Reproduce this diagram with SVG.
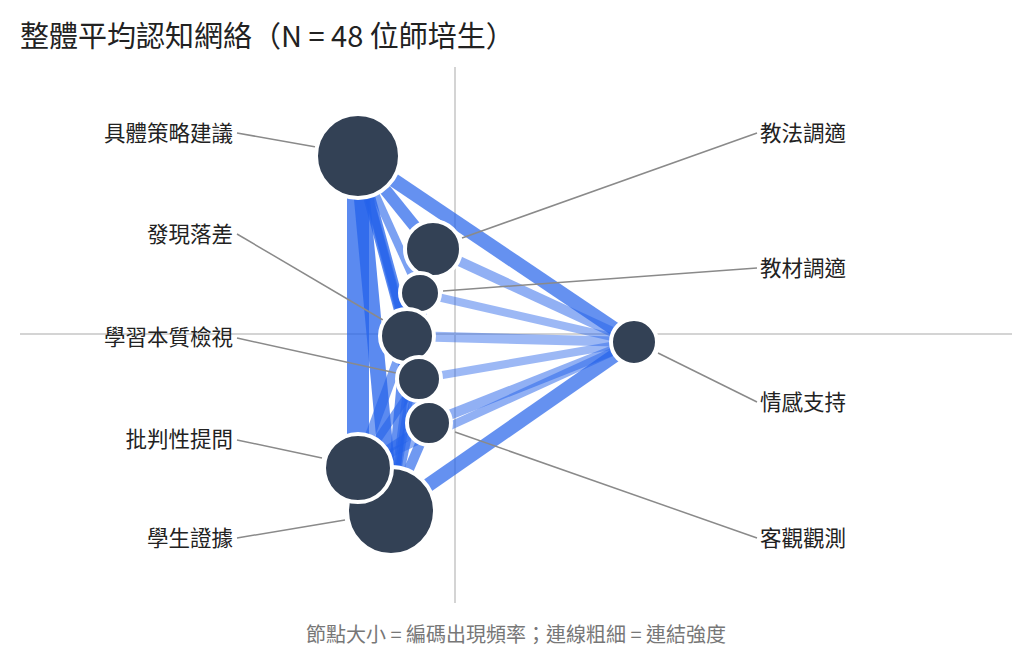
<svg xmlns="http://www.w3.org/2000/svg" width="1031" height="665" viewBox="0 0 1031 665">
<style>
text{font-family:"Noto Sans CJK TC","Noto Sans",sans-serif;fill:#222}
.lab{font-size:21.5px}
.ax{stroke:#d4d4d4;stroke-width:2}
.lead{stroke:#8a8a8a;stroke-width:1.5}
.e{stroke:#2563eb;stroke-linecap:butt}
.n{fill:#334155;stroke:#fff;stroke-width:4}
</style>
<rect width="1031" height="665" fill="#fff"/>
<text x="20" y="47" font-size="29">整體平均認知網絡（N = 48 位師培生）</text>
<line class="ax" x1="455" y1="67" x2="455" y2="603"/>
<line class="ax" x1="20" y1="334" x2="1012" y2="334"/>
<g id="connectors">
<line class="e" x1="358" y1="156" x2="634" y2="342" stroke-width="14" opacity="0.7"/>
<line class="e" x1="358" y1="156" x2="433" y2="249" stroke-width="12" opacity="0.7"/>
<line class="e" x1="358" y1="156" x2="420" y2="293" stroke-width="8" opacity="0.6"/>
<line class="e" x1="358" y1="156" x2="407" y2="336" stroke-width="12" opacity="0.75"/>
<line class="e" x1="358" y1="156" x2="419" y2="379" stroke-width="8" opacity="0.6"/>
<line class="e" x1="358" y1="156" x2="358" y2="468" stroke-width="22" opacity="0.75"/>
<line class="e" x1="358" y1="156" x2="391" y2="511" stroke-width="16" opacity="0.75"/>
<line class="e" x1="358" y1="156" x2="429" y2="423" stroke-width="8" opacity="0.6"/>
<line class="e" x1="433" y1="249" x2="634" y2="342" stroke-width="10" opacity="0.5"/>
<line class="e" x1="420" y1="293" x2="634" y2="342" stroke-width="8" opacity="0.45"/>
<line class="e" x1="407" y1="336" x2="634" y2="342" stroke-width="10" opacity="0.45"/>
<line class="e" x1="419" y1="379" x2="634" y2="342" stroke-width="8" opacity="0.45"/>
<line class="e" x1="429" y1="423" x2="634" y2="342" stroke-width="10" opacity="0.5"/>
<line class="e" x1="358" y1="468" x2="634" y2="342" stroke-width="8" opacity="0.5"/>
<line class="e" x1="391" y1="511" x2="634" y2="342" stroke-width="14" opacity="0.7"/>
<line class="e" x1="420" y1="293" x2="391" y2="511" stroke-width="8" opacity="0.55"/>
<line class="e" x1="407" y1="336" x2="391" y2="511" stroke-width="12" opacity="0.7"/>
<line class="e" x1="407" y1="336" x2="358" y2="468" stroke-width="10" opacity="0.6"/>
<line class="e" x1="419" y1="379" x2="358" y2="468" stroke-width="8" opacity="0.6"/>
<line class="e" x1="419" y1="379" x2="391" y2="511" stroke-width="10" opacity="0.65"/>
<line class="e" x1="429" y1="423" x2="391" y2="511" stroke-width="10" opacity="0.65"/>
<line class="e" x1="429" y1="423" x2="358" y2="468" stroke-width="8" opacity="0.6"/>
<line class="e" x1="433" y1="249" x2="391" y2="511" stroke-width="8" opacity="0.55"/>
<line class="e" x1="358" y1="468" x2="391" y2="511" stroke-width="18" opacity="0.75"/>
</g>
<g id="leaders">
<line class="lead" x1="237" y1="133" x2="316" y2="147"/>
<line class="lead" x1="237" y1="234" x2="383" y2="320"/>
<line class="lead" x1="237" y1="338" x2="396" y2="373"/>
<line class="lead" x1="237" y1="440" x2="322" y2="458"/>
<line class="lead" x1="237" y1="538" x2="345" y2="520"/>
<line class="lead" x1="757" y1="133" x2="462" y2="238"/>
<line class="lead" x1="757" y1="268" x2="443" y2="291"/>
<line class="lead" x1="757" y1="402" x2="658" y2="353"/>
<line class="lead" x1="757" y1="538" x2="455" y2="432"/>
</g>
<g id="n1"><circle class="n" cx="358" cy="156" r="42"/><text class="lab" x="233" y="141" text-anchor="end">具體策略建議</text></g>
<g id="n2"><circle class="n" cx="433" cy="249" r="28"/><text class="lab" x="760" y="141">教法調適</text></g>
<g id="n3"><circle class="n" cx="420" cy="293" r="20"/><text class="lab" x="760" y="276">教材調適</text></g>
<g id="n4"><circle class="n" cx="407" cy="336" r="27"/><text class="lab" x="233" y="242" text-anchor="end">發現落差</text></g>
<g id="n5"><circle class="n" cx="419" cy="379" r="22"/><text class="lab" x="233" y="345" text-anchor="end">學習本質檢視</text></g>
<g id="n6"><circle class="n" cx="429" cy="423" r="22"/><text class="lab" x="760" y="546">客觀觀測</text></g>
<g id="n8"><circle class="n" cx="391" cy="511" r="44"/><text class="lab" x="233" y="546" text-anchor="end">學生證據</text></g>
<g id="n7"><circle class="n" cx="358" cy="468" r="34"/><text class="lab" x="233" y="447" text-anchor="end">批判性提問</text></g>
<g id="n9"><circle class="n" cx="634" cy="342" r="23"/><text class="lab" x="760" y="410">情感支持</text></g>
<text x="516" y="642" font-size="20" style="fill:#777" text-anchor="middle">節點大小 = 編碼出現頻率；連線粗細 = 連結強度</text>
</svg>
